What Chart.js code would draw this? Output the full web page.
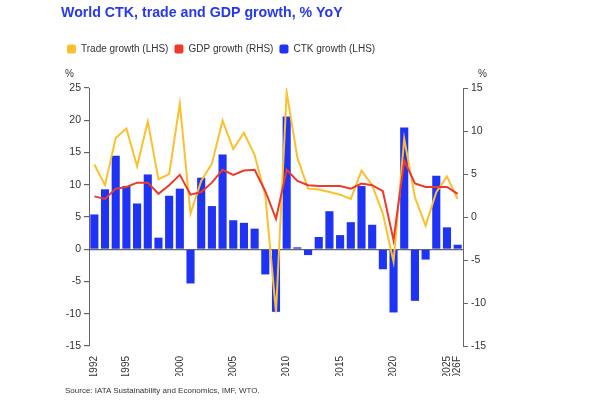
<!DOCTYPE html>
<html>
<head>
<meta charset="utf-8">
<script src="https://cdn.jsdelivr.net/npm/chart.js@4"></script>
<style>
    body { margin: 0; background: #fff; font-family: 'Liberation Sans', Arial, sans-serif; }
    #wrap { position: relative; width: 600px; height: 400px; }
    canvas { position: absolute; left: 0; top: 0; }
    .unit { position: absolute; top: 68px; font-size: 10px; color: #333; }
    .source { position: absolute; left: 65px; top: 386px; font-size: 8px; color: #333; }
</style>
</head>
<body>
<div id="wrap">
    <canvas id="chart" width="600" height="400"></canvas>
    <div class="unit" style="left:65px">%</div>
    <div class="unit" style="left:478px">%</div>
    <div class="source">Source: IATA Sustainability and Economics, IMF, WTO.</div>
</div>
<script>
// data
const years = ['1992','1993','1994','1995','1996','1997','1998','1999','2000','2001',
    '2002','2003','2004','2005','2006','2007','2008','2009','2010','2011',
    '2012','2013','2014','2015','2016','2017','2018','2019','2020','2021',
    '2022','2023','2024','2025','2026F'];
const shownLabels = ['1992','1995','2000','2005','2010','2015','2020','2025','2026F'];

// CTK growth, % (left axis)
const ctkGrowth = [5.4, 9.3, 14.5, 9.8, 7.1, 11.6, 1.8, 8.3, 9.4, -5.3,
    11.1, 6.7, 14.7, 4.5, 4.1, 3.2, -3.9, -9.7, 20.6, 0.3,
    -0.9, 1.9, 5.9, 2.2, 4.2, 9.8, 3.8, -3.1, -9.8, 18.9,
    -8.0, -1.6, 11.4, 3.4, 0.7];

// trade growth, % (drawn against the right-hand scale in the picture)
const tradeGrowth = [6.1, 3.7, 9.2, 10.3, 5.9, 11.1, 4.4, 5.0, 13.2, 0.4,
    4.2, 6.2, 11.2, 7.9, 9.8, 7.2, 2.5, -11.1, 14.5, 6.9,
    3.3, 3.2, 2.9, 2.6, 2.1, 5.4, 3.7, 0.4, -5.2, 9.1,
    2.3, -1.0, 2.9, 4.7, 2.1];

// GDP growth, % (right axis)
const gdpGrowth = [2.4, 2.1, 3.3, 3.5, 4.0, 4.0, 2.7, 3.7, 4.9, 2.6,
    2.9, 4.0, 5.5, 4.9, 5.4, 5.5, 3.0, -0.2, 5.5, 4.2,
    3.7, 3.6, 3.6, 3.6, 3.3, 3.9, 3.7, 3.0, -2.7, 6.6,
    3.9, 3.5, 3.5, 3.5, 2.7];

const leftTicks = { min: -15, max: 25, step: 5 };
const rightTicks = { min: -15, max: 15, step: 5 };

const YELLOW = '#fbc02d';
const RED = '#ee3a2b';
const BLUE = '#1f33f5';
const AXIS = '#666';

// push the plot area down below the legend
const legendGap = {
    id: 'legendGap',
    beforeInit(chart) {
        const fit = chart.legend.fit;
        chart.legend.fit = function () {
            fit.bind(chart.legend)();
            this.height += 24;
        };
    }
};

new Chart(document.getElementById('chart'), {
    data: {
        labels: years,
        datasets: [
            {
                type: 'line', label: 'Trade growth (LHS)', data: tradeGrowth, yAxisID: 'y1',
                borderColor: YELLOW, backgroundColor: YELLOW, borderWidth: 2,
                pointRadius: 0, tension: 0, order: 1
            },
            {
                type: 'line', label: 'GDP growth (RHS)', data: gdpGrowth, yAxisID: 'y1',
                borderColor: RED, backgroundColor: RED, borderWidth: 2,
                pointRadius: 0, tension: 0, order: 0
            },
            {
                type: 'bar', label: 'CTK growth (LHS)', data: ctkGrowth, yAxisID: 'y',
                backgroundColor: BLUE, borderWidth: 0,
                barPercentage: 0.76, categoryPercentage: 1, order: 2
            }
        ]
    },
    options: {
        responsive: false,
        animation: false,
        layout: { padding: { left: 61, right: 100, top: 0, bottom: 24 } },
        plugins: {
            title: {
                display: true, align: 'start',
                text: 'World CTK, trade and GDP growth, % YoY',
                color: '#2638f0',
                font: { family: "'Liberation Sans', Arial, sans-serif", size: 14.2, weight: 'bold' },
                padding: { top: 5, bottom: 16 }
            },
            legend: {
                align: 'start',
                labels: {
                    color: '#333',
                    font: { family: "'Liberation Sans', Arial, sans-serif", size: 10 },
                    boxWidth: 9, boxHeight: 9, padding: 6,
                    useBorderRadius: true, borderRadius: 2,
                    generateLabels(chart) {
                        return chart.data.datasets.map((ds, i) => ({
                            text: ds.label,
                            fillStyle: ds.backgroundColor,
                            strokeStyle: ds.backgroundColor,
                            lineWidth: 0,
                            borderRadius: 2,
                            hidden: false,
                            datasetIndex: i,
                            fontColor: '#333'
                        }));
                    }
                }
            },
            tooltip: { enabled: false }
        },
        scales: {
            x: {
                grid: { display: false },
                border: { display: false },
                ticks: {
                    autoSkip: false, maxRotation: 90, minRotation: 90, padding: 2,
                    color: '#333', font: { size: 10 },
                    callback: function (value) {
                        const lab = this.getLabelForValue(value);
                        return shownLabels.includes(lab) ? lab : '';
                    }
                },
                afterFit(scale) { scale.height = 30; }
            },
            y: {
                position: 'left',
                min: leftTicks.min, max: leftTicks.max,
                ticks: { stepSize: leftTicks.step, color: '#333', font: { size: 10.5 }, padding: 3 },
                grid: {
                    color: ctx => ctx.tick && ctx.tick.value === 0 ? AXIS : 'rgba(0,0,0,0)',
                    lineWidth: 1.2,
                    tickColor: AXIS, tickLength: 5
                },
                border: { color: AXIS, width: 1 },
                afterFit(scale) { scale.width = 28; }
            },
            y1: {
                position: 'right',
                min: rightTicks.min, max: rightTicks.max,
                ticks: { stepSize: rightTicks.step, color: '#333', font: { size: 10.5 }, padding: 3 },
                grid: { drawOnChartArea: false, tickColor: AXIS, tickLength: 5 },
                border: { color: AXIS, width: 1 },
                afterFit(scale) { scale.width = 37; }
            }
        }
    },
    plugins: [legendGap]
});
</script>
</body>
</html>
